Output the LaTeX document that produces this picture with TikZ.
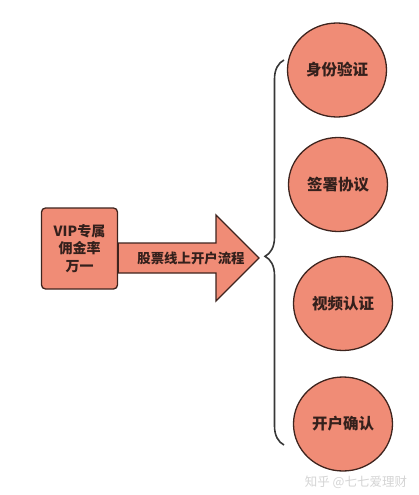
\documentclass[tikz,border=0pt]{standalone}
\usepackage{fontspec}
\usepackage{xcolor}
\usetikzlibrary{shapes.geometric,decorations.pathreplacing}
\newfontfamily\cjk{Noto Sans CJK SC}
\definecolor{salmon}{RGB}{240,140,118}
\definecolor{edge}{RGB}{62,36,30}
\definecolor{ink}{RGB}{52,32,28}
\definecolor{bracegray}{RGB}{55,55,55}
\definecolor{wmark}{RGB}{212,212,212}
\tikzset{
	stepcirc/.style={ellipse, draw=edge, line width=1.3pt, fill=salmon, minimum width=99pt, minimum height=94pt, inner sep=0pt, text=ink, font=\cjk\bfseries\fontsize{15.5}{18}\selectfont},
}

\begin{document}
\begin{tikzpicture}[x=1pt,y=-1pt]
			\useasboundingbox (0,0) rectangle (419,495);
			\node (vip) [draw=edge, line width=1.3pt, fill=salmon, rounded corners=4pt, minimum width=76pt, minimum height=81pt, align=center, text=ink, font=\cjk\bfseries\fontsize{14}{17.5}\selectfont] at (79.5,248.5) {VIP专属\\佣金率\\万一};
			\draw[draw=edge, line width=1.3pt, fill=salmon]
			(vip.east |- 0,243) -- (216,243) -- (216,215) -- (259,258) -- (216,301) -- (216,273) -- (vip.east |- 0,273) -- cycle;
			\node (flow) [text=ink, font=\cjk\bfseries\fontsize{13.4}{15}\selectfont] at (191,258) {股票线上开户流程};
			
			\node (s1) [stepcirc] at (337,70) {身份验证};
			\node (s2) [stepcirc] at (338,184.5) {签署协议};
			\node (s3) [stepcirc] at (343,303.5) {视频认证};
			\node (s4) [stepcirc] at (343,424) {开户确认};
			
			\coordinate (btop) at (284,60);
			\coordinate (bbot) at (284,445);
			\draw[bracegray, line width=1.6pt, decorate, decoration={brace, amplitude=19pt, aspect=0.49}]
			(bbot) -- (btop);
			
			\node (wm) [text=wmark, font=\cjk\fontsize{12.5}{15}\selectfont] at (356,482) {知乎 @七七爱理财};
		
		\end{tikzpicture}
\end{document}
